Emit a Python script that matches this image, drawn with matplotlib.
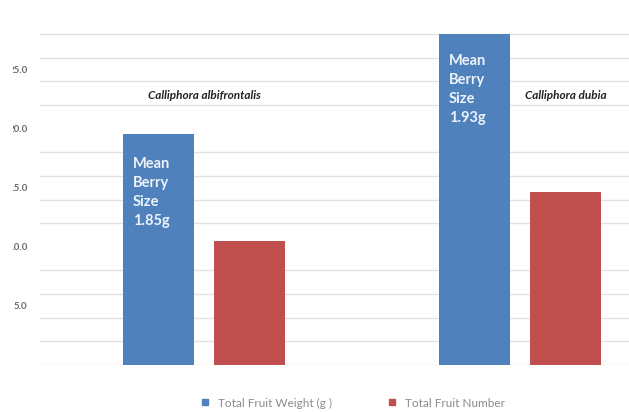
import matplotlib
matplotlib.use("Agg")
import matplotlib.pyplot as plt
import numpy as np
from matplotlib.lines import Line2D
from matplotlib.patches import Rectangle

plt.rcParams['font.family'] = ['Lato', 'DejaVu Sans']

# data
species = ['Calliphora albifrontalis', 'Calliphora dubia']
fruit_weight = [19.5, 28.0]
fruit_number = [10.5, 14.6]
berry_size = ['1.85g', '1.93g']
series_names = ['Total Fruit Weight (g )', 'Total Fruit Number']
y_ticks = [5, 10, 15, 20, 25]
y_tick_labels = ['5.0', '10.0', '15.0', '20.0', '25.0']

blue = '#4f81bd'
red = '#c0504d'

fig = plt.figure(figsize=(6.29, 4.12), dpi=100)
ax = fig.add_axes([40 / 629, 47 / 412, 589 / 629, 335 / 412])

x = np.arange(len(species))
w = 0.222
off = 0.144
ax.bar(x - off, fruit_weight, w, color=blue, zorder=2)
ax.bar(x + off, fruit_number, w, color=red, zorder=2)

ax.set_xlim(-0.519, 1.345)
ax.set_ylim(0, 28.34)

# light horizontal grid every 2 units
ax.set_yticks(np.arange(0, 29, 2), minor=True)
ax.grid(True, which='minor', axis='y', color='#e2e2e2', linewidth=1.0, zorder=0)
ax.set_yticks(y_ticks)
ax.set_yticklabels(y_tick_labels, fontsize=7, fontweight='bold', color='#6a6a6a')
ax.tick_params(axis='y', which='both', length=0, pad=9)
ax.set_xticks([])
for s in ax.spines.values():
    s.set_visible(False)

# species names
ax.text(0, 22.8, species[0], ha='center', va='center', fontsize=8.5,
        fontweight='bold', fontstyle='italic', color='#222222')
ax.text(1 + off, 22.8, species[1], ha='center', va='center', fontsize=8.5,
        fontweight='bold', fontstyle='italic', color='#222222')

# mean berry size inside the blue bars
text_tops = [17.6, 26.3]
for i in range(len(species)):
    ax.text(x[i] - off - w / 2 + 0.03, text_tops[i], 'Mean\nBerry\nSize\n' + berry_size[i],
            ha='left', va='top', fontsize=10.5, fontweight='bold', color='#eef3fa',
            linespacing=1.45, zorder=3)

handles = [Line2D([], [], marker='s', linestyle='none', color=blue, markersize=4),
           Line2D([], [], marker='s', linestyle='none', color=red, markersize=4)]
fig.legend(handles, series_names, loc='center', bbox_to_anchor=(352 / 629, 9 / 412),
           ncol=2, frameon=False, fontsize=8.5, labelcolor='#8a8a8a',
           columnspacing=4.6, handletextpad=0.6, handlelength=1.0)

# the reference image is cropped on the left, cutting off the leading digits
fig.patches.append(Rectangle((0, 0), 13 / 629, 1, transform=fig.transFigure,
                             facecolor='white', edgecolor='none', zorder=10))

fig.savefig('out.png', dpi=100, facecolor='white')
